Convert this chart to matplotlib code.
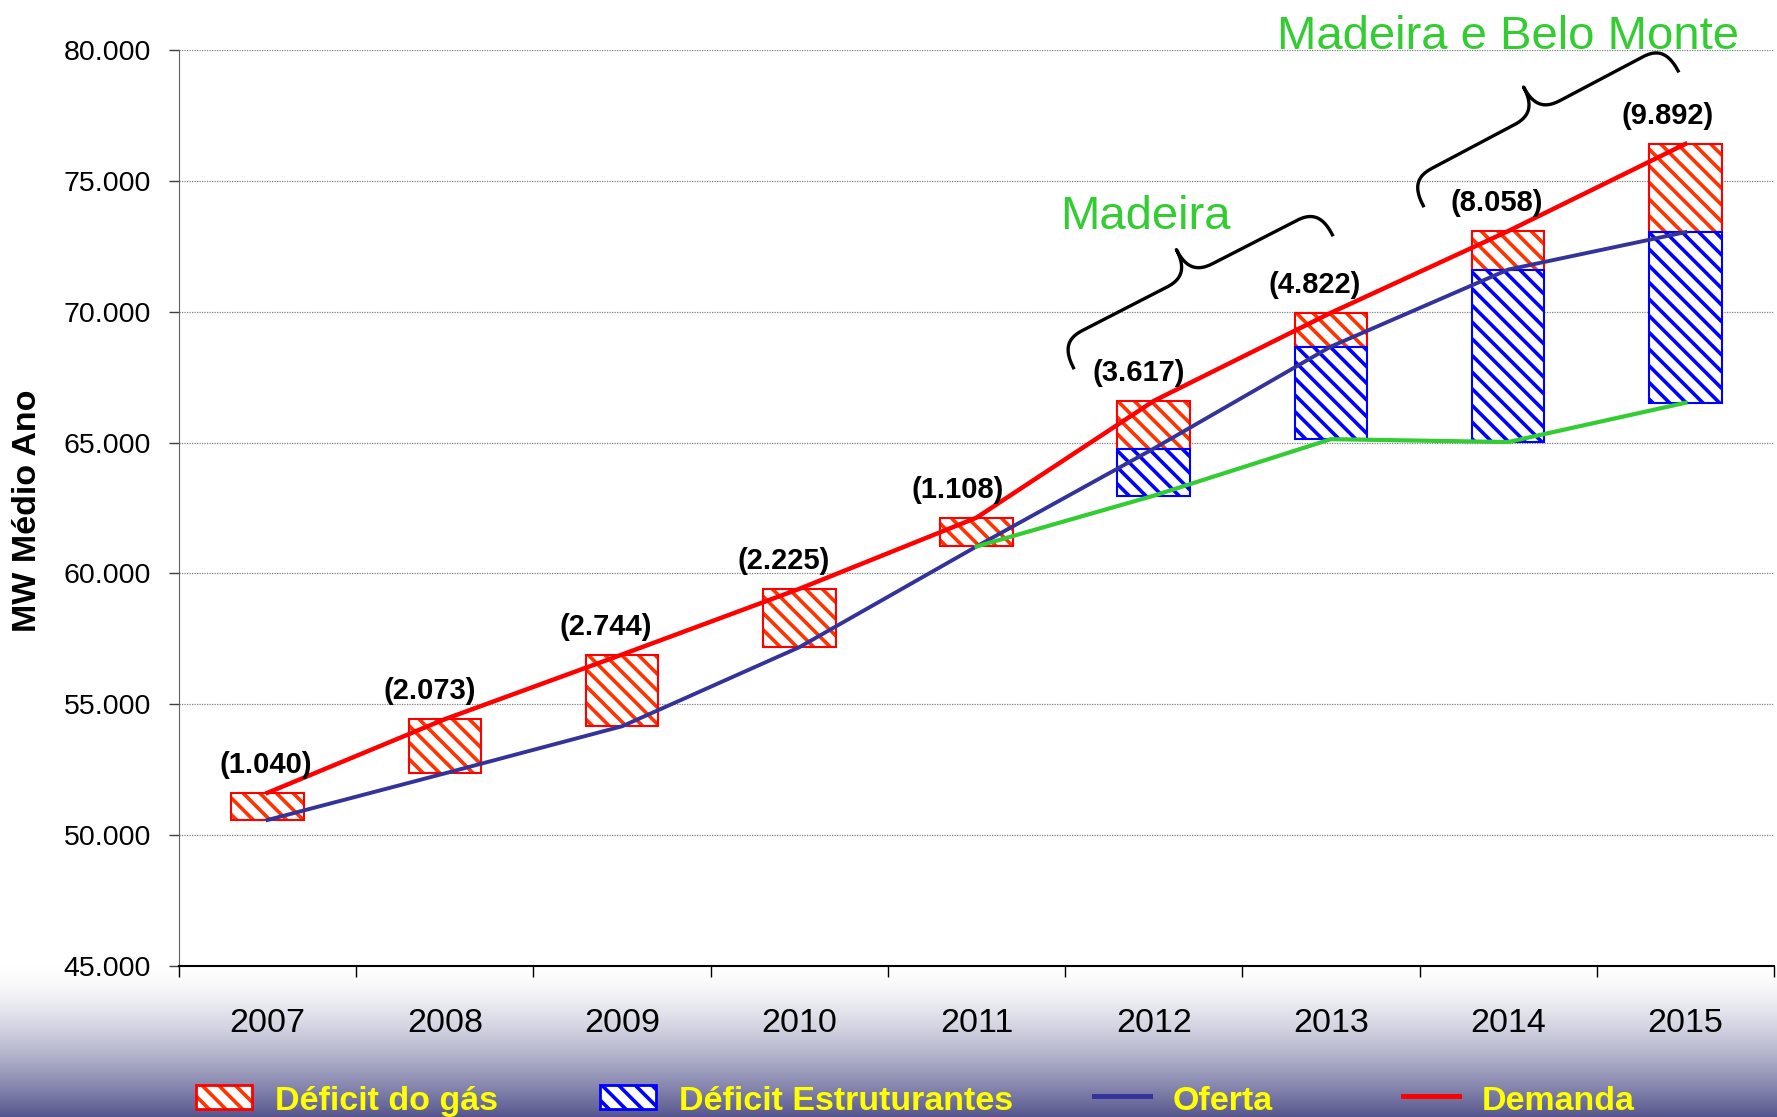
import numpy as np
import matplotlib
matplotlib.use('Agg')
import matplotlib.pyplot as plt
from matplotlib.patches import Rectangle
from matplotlib.lines import Line2D

plt.rcParams['font.family'] = ['Liberation Sans', 'DejaVu Sans']
plt.rcParams['hatch.linewidth'] = 2.6

# dados (MW medio)
anos = ['2007', '2008', '2009', '2010', '2011', '2012', '2013', '2014', '2015']
demanda = [51620, 54430, 56900, 59410, 62130, 66590, 69960, 73080, 76410]
oferta = [50580, 52360, 54160, 57180, 61030, 64770, 68670, 71610, 73040]
oferta_sem_estrut = [np.nan, np.nan, np.nan, np.nan, 61030, 62970, 65130, 65020, 66520]
rotulos_deficit = ['(1.040)', '(2.073)', '(2.744)', '(2.225)', '(1.108)',
                   '(3.617)', '(4.822)', '(8.058)', '(9.892)']
y_ticks = [45000, 50000, 55000, 60000, 65000, 70000, 75000, 80000]
legenda = ['Déficit do gás', 'Déficit Estruturantes', 'Oferta', 'Demanda']

# deslocamento horizontal dos rotulos (pt), como no original
desloc_rot = [-1, -11, -11.5, -11, -13.5, -11, -12, -8, -12.5]

VERM = '#FF0000'
LARANJA = '#FF3300'
AZUL = '#0000FF'
AZUL_OF = '#333399'
VERDE = '#33CC33'
HATCH = '\\\\'

W, H = 1777, 1117
fig = plt.figure(figsize=(W / 100, H / 100), dpi=100)

# fundo degrade embaixo
bg = fig.add_axes([0, 0, 1, (H - 966) / H], zorder=-1)
f = np.linspace(0, 1, 200) ** 1.5
c0 = np.array([1.0, 1.0, 1.0])
c1 = np.array([86, 86, 142]) / 255
grad = c0[None, :] * (1 - f[:, None]) + c1[None, :] * f[:, None]
bg.imshow(grad[:, None, :], aspect='auto', extent=(0, 1, 0, 1))
bg.axis('off')

ax = fig.add_axes([179 / W, 1 - 966 / H, (1774 - 179) / W, (966 - 50) / H])
ax.set_facecolor('none')
x = np.arange(len(anos))
ax.set_xlim(-0.5, len(anos) - 0.5)
ax.set_ylim(45000, 80000)

dem = np.array(demanda, float)
of = np.array(oferta, float)
sem = np.array(oferta_sem_estrut, float)

# barras do deficit do gas
ax.bar(x, dem - of, bottom=of, width=0.41, color='white', edgecolor=LARANJA,
       hatch=HATCH, linewidth=0, zorder=2)
ax.bar(x, dem - of, bottom=of, width=0.41, fill=False, edgecolor=VERM,
       linewidth=1.5, zorder=2)
# barras dos estruturantes
m = ~np.isnan(sem)
mb = m & (np.nan_to_num(of - sem) > 0)
ax.bar(x[mb], of[mb] - sem[mb], bottom=sem[mb], width=0.41, color='white',
       edgecolor=AZUL, hatch=HATCH, linewidth=0, zorder=2)
ax.bar(x[mb], of[mb] - sem[mb], bottom=sem[mb], width=0.41, fill=False,
       edgecolor=AZUL, linewidth=1.5, zorder=2)

ax.plot(x, of, color=AZUL_OF, lw=2.8, zorder=3)
ax.plot(x[m], sem[m], color=VERDE, lw=3.0, zorder=3)
ax.plot(x, dem, color=VERM, lw=3.2, zorder=3)

for xi, d, lbl, dx in zip(x, dem, rotulos_deficit, desloc_rot):
    ax.annotate(lbl, (xi, d), xytext=(dx, 20), textcoords='offset points',
                ha='center', va='center', fontsize=21, fontweight='bold', zorder=5)

# eixos
ax.set_yticks(y_ticks)
ax.set_yticklabels([f'{v:,.0f}'.replace(',', '.') for v in y_ticks], fontsize=20.5)
ax.yaxis.grid(True, color='#808080', linestyle=(0, (1, 1)), linewidth=0.9, zorder=0)
ax.set_axisbelow(True)
ax.tick_params(axis='y', length=7, width=1, color='#404040', pad=13)
ax.set_xticks(np.arange(-0.5, len(anos)), labels=[])
ax.set_xticks(x, labels=anos, minor=True)
ax.tick_params(axis='x', which='major', length=8, width=1, color='black')
ax.tick_params(axis='x', which='minor', length=0, pad=30, labelsize=24.5)
for s in ['top', 'right']:
    ax.spines[s].set_visible(False)
ax.spines['left'].set_color('#606060')
ax.spines['bottom'].set_linewidth(1.5)

fig.text(28 / W, 1 - 511 / H, 'MW Médio Ano', rotation=90, ha='center', va='center',
         fontsize=24.5, fontweight='bold')


def chave(ax, p0, p1, w=29, r=25, r2=26):
    a = ax.transData.transform(p0)
    b = ax.transData.transform(p1)
    d = b - a
    L = np.hypot(*d)
    u = d / L
    n = np.array([-u[1], u[0]])
    t = np.linspace(0, 1, 40)[:, None]

    def bez(P):
        P = np.array(P, float)
        return (1 - t) ** 3 * P[0] + 3 * (1 - t) ** 2 * t * P[1] + 3 * (1 - t) * t ** 2 * P[2] + t ** 3 * P[3]

    h = L / 2
    half = np.vstack([bez([(0, 0), (0, 0.75 * w), (0.35 * r, w), (r, w)]),
                      bez([(h - r2, w), (h - 0.35 * r2, w), (h, 1.25 * w), (h, 2 * w)])])
    other = half[::-1].copy()
    other[:, 0] = L - other[:, 0]
    pts = np.vstack([half, other])
    xy = a + pts[:, :1] * u + pts[:, 1:] * n
    dd = ax.transData.inverted().transform(xy)
    ax.plot(dd[:, 0], dd[:, 1], color='black', lw=2.4, clip_on=False, zorder=4)


chave(ax, (4.547, 67860), (6.008, 72940))
chave(ax, (6.521, 74050), (7.959, 79200))
ax.text(4.953, 73170, 'Madeira', color=VERDE, fontsize=34, ha='center', va='baseline')
ax.text(7.0, 80040, 'Madeira e Belo Monte', color=VERDE, fontsize=34, ha='center',
        va='baseline', clip_on=False)

# legenda
ylb = 1 - 1110 / H
for x0, cor_h, cor_b in [(196, LARANJA, VERM), (600, AZUL, AZUL)]:
    fig.add_artist(Rectangle((x0 / W, 1 - 1109 / H), 56 / W, 24 / H, transform=fig.transFigure,
                             facecolor='white', edgecolor=cor_h, hatch=HATCH, lw=0))
    fig.add_artist(Rectangle((x0 / W, 1 - 1109 / H), 56 / W, 24 / H, transform=fig.transFigure,
                             fill=False, edgecolor=cor_b, lw=2))
for x0, cor in [(1094, AZUL_OF), (1403, VERM)]:
    fig.add_artist(Line2D([x0 / W, (x0 + 56) / W], [1 - 1096 / H] * 2, transform=fig.transFigure,
                          color=cor, lw=3.6))
for xt, lbl in zip([275, 679, 1173, 1482], legenda):
    fig.text(xt / W, ylb, lbl, color='#FFFF00', fontsize=24.5, fontweight='bold',
             ha='left', va='baseline')

fig.savefig('out.png', dpi=100)
